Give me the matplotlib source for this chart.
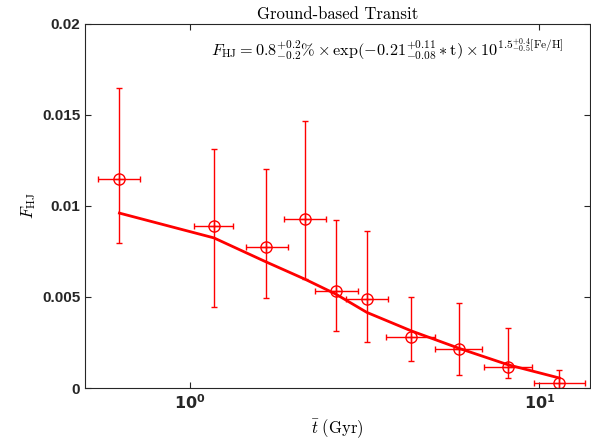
import numpy as np
import matplotlib
matplotlib.use("Agg")
import matplotlib.pyplot as plt
from matplotlib.ticker import FixedLocator, NullLocator

plt.rcParams['mathtext.fontset'] = 'cm'

# mean age of each bin (Gyr) and its range
t_mean = [0.627, 1.169, 1.650, 2.133, 2.615, 3.206, 4.292, 5.886, 8.124, 11.41]
t_low = [0.546, 1.023, 1.447, 1.857, 2.278, 2.786, 3.640, 5.035, 6.925, 9.64]
t_high = [0.718, 1.322, 1.902, 2.453, 3.014, 3.696, 5.015, 6.862, 9.513, 13.54]

# hot Jupiter frequency with errors
f_hj = [0.01145, 0.00888, 0.00773, 0.0093, 0.00535, 0.00489, 0.00278, 0.00212, 0.00117, 0.00027]
f_top = [0.01644, 0.01311, 0.01202, 0.01463, 0.00922, 0.00862, 0.00502, 0.00466, 0.00327, 0.00100]
f_bot = [0.00795, 0.00444, 0.00493, 0.00597, 0.00314, 0.00252, 0.00146, 0.00073, 0.00055, 0.0]

# model curve
f_model = [0.0096, 0.00824, 0.00692, 0.00597, 0.00515, 0.00415, 0.00314, 0.00218, 0.00128, 0.00055]

t = np.array(t_mean)
y = np.array(f_hj)
xerr = [t - np.array(t_low), np.array(t_high) - t]
yerr = [y - np.array(f_bot), np.array(f_top) - y]

fig = plt.figure(figsize=(5.91, 4.45), dpi=100)
ax = fig.add_axes([0.144, 0.128, 0.855, 0.819])

ax.plot(t, f_model, color='red', lw=2)
ax.errorbar(t, y, xerr=xerr, yerr=yerr, fmt='o', color='red', mfc='none',
            ms=8, mew=1, elinewidth=1, capsize=2.5, capthick=1)
# crosshair inside the circles
ax.plot(t, y, '+', color='red', ms=8, mew=1)

ax.set_xscale('log')
ax.set_xlim(0.5, 14)
ax.set_ylim(0, 0.02)
ax.xaxis.set_major_locator(FixedLocator([1, 10]))
ax.xaxis.set_minor_locator(NullLocator())
ax.set_xticklabels([r'$\mathbf{10^0}$', r'$\mathbf{10^1}$'], fontsize=11.5,
                   math_fontfamily='dejavusans')
ax.set_yticks([0, 0.005, 0.01, 0.015, 0.02])
ax.set_yticklabels(['0', '0.005', '0.01', '0.015', '0.02'], fontsize=11,
                   fontweight='bold', family='Liberation Sans')
ax.tick_params(direction='in', top=True, right=True, length=4, width=0.8, colors='#262626')
for s in ax.spines.values():
    s.set_color('#262626')
    s.set_linewidth(0.8)

ax.set_title('Ground-based Transit', fontsize=12, family='cmr10', pad=3)
ax.set_xlabel(r'$\bar{t}\ \mathrm{(Gyr)}$', fontsize=12)
ax.set_ylabel(r'$F_{\rm HJ}$', fontsize=12, labelpad=3)

ax.text(0.947, 0.93,
        r'$F_{\rm HJ} = 0.8^{+0.2}_{-0.2}\% \times \exp(-0.21^{+0.11}_{-0.08} * {\rm t})'
        r' \times 10^{1.5^{+0.4}_{-0.5}[{\rm Fe/H}]}$',
        transform=ax.transAxes, ha='right', va='center', fontsize=11.7)

plt.savefig('out.png', dpi=100)
